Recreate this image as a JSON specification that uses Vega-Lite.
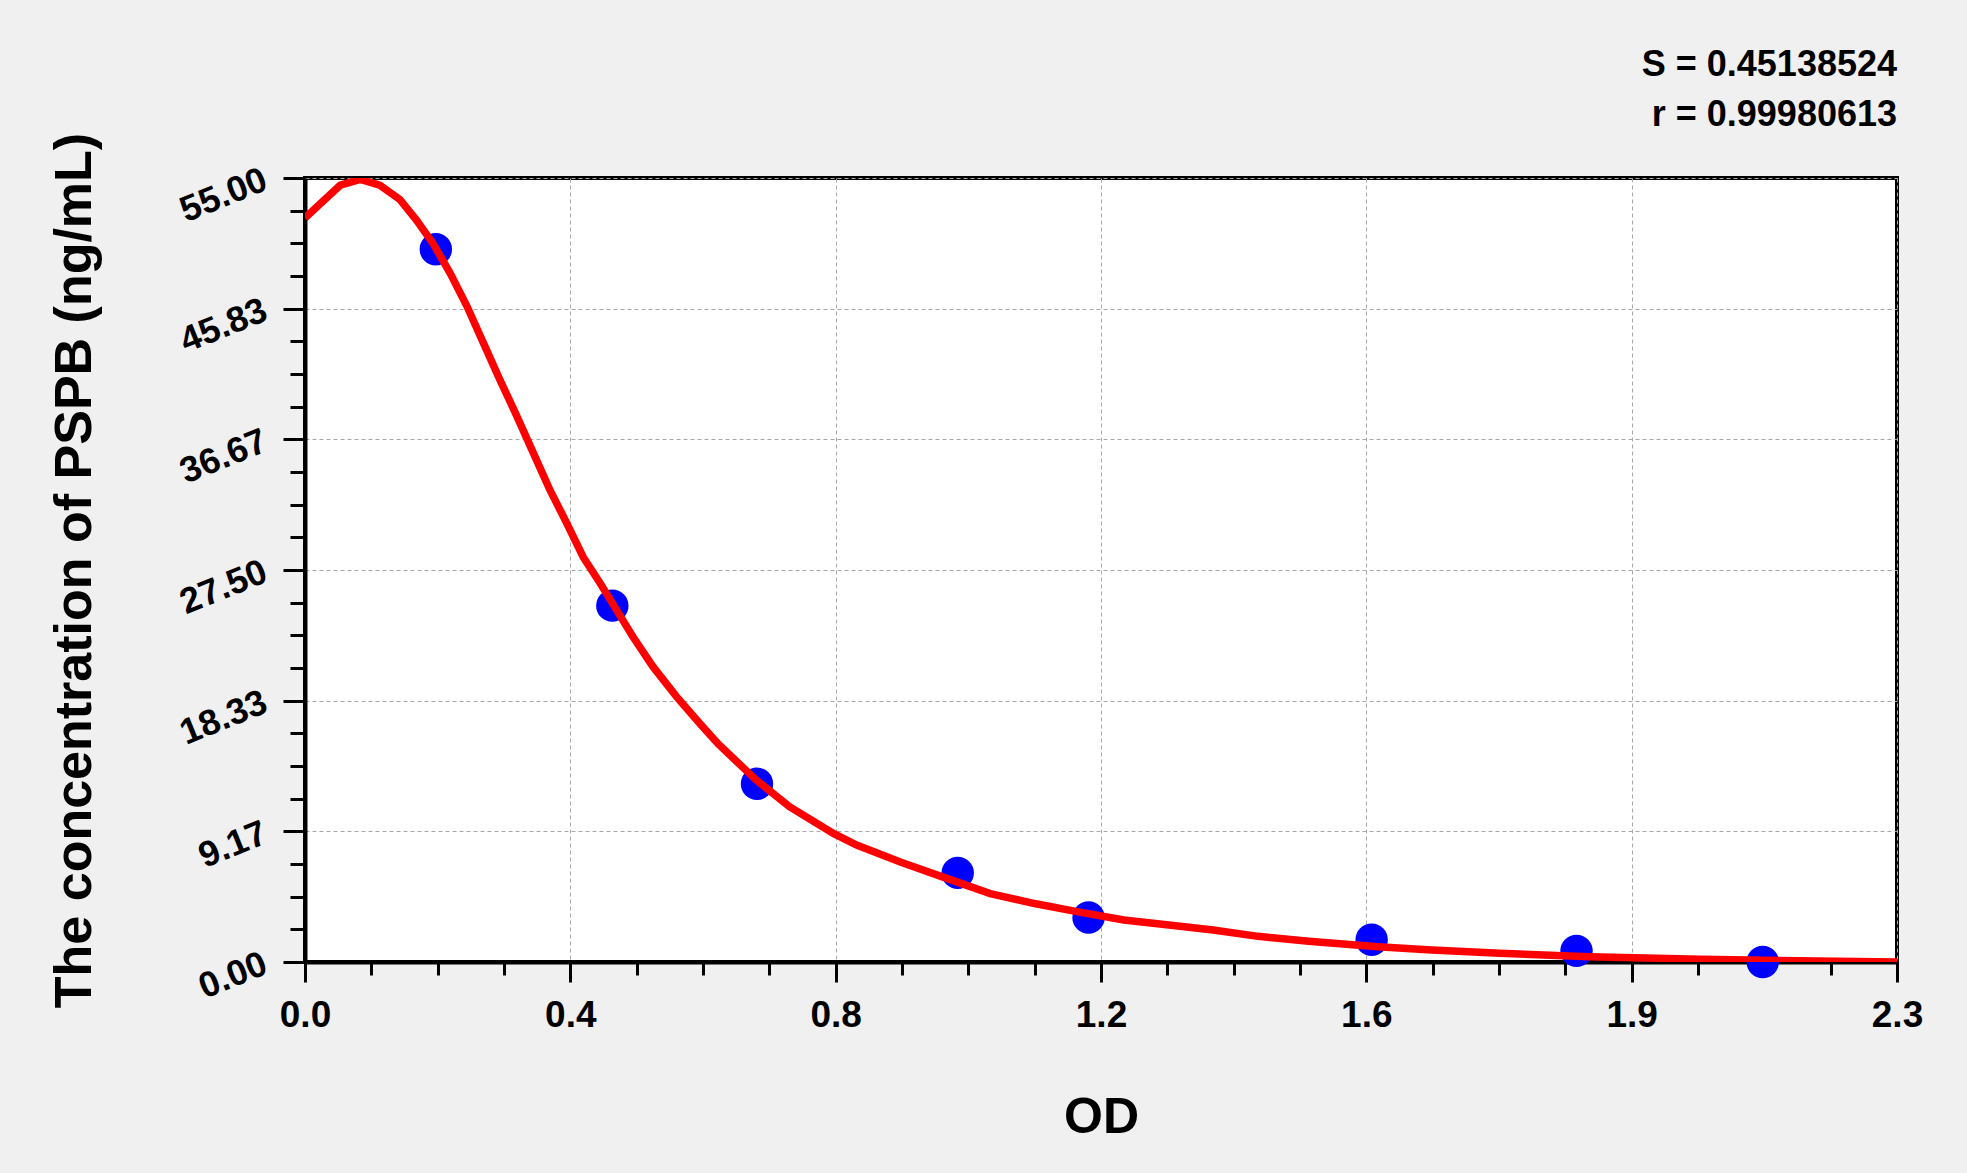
{
  "$schema": "https://vega.github.io/schema/vega-lite/v6.json",
  "width": 1592,
  "height": 784,
  "autosize": {"type": "none"},
  "padding": {"left": 305, "top": 178, "right": 70, "bottom": 211},
  "background": "#f0f0f0",
  "config": {
    "view": {"fill": "#ffffff", "stroke": "#000000", "strokeWidth": 4},
    "font": "Liberation Sans"
  },
  "title": {
    "text": "S = 0.45138524",
    "subtitle": "r = 0.99980613",
    "anchor": "end",
    "frame": "group",
    "orient": "top",
    "offset": -2,
    "fontSize": 36,
    "fontWeight": "bold",
    "font": "Liberation Sans",
    "color": "#000000",
    "subtitleFontSize": 36,
    "subtitleFontWeight": "bold",
    "subtitleFont": "Liberation Sans",
    "subtitleColor": "#000000",
    "subtitlePadding": 14
  },
  "datasets": {
    "standards": [
      {"od": 0.189, "conc": 50},
      {"od": 0.444, "conc": 25},
      {"od": 0.653, "conc": 12.5},
      {"od": 0.943, "conc": 6.25},
      {"od": 1.132, "conc": 3.125},
      {"od": 1.541, "conc": 1.5625},
      {"od": 1.837, "conc": 0.78125},
      {"od": 2.106, "conc": 0}
    ],
    "curve": [
      {"od": 0.0, "conc": 52.2},
      {"od": 0.022, "conc": 53.2},
      {"od": 0.051, "conc": 54.5},
      {"od": 0.08, "conc": 54.9},
      {"od": 0.108, "conc": 54.5},
      {"od": 0.137, "conc": 53.5},
      {"od": 0.161, "conc": 52.05},
      {"od": 0.185, "conc": 50.4},
      {"od": 0.21, "conc": 48.3},
      {"od": 0.234, "conc": 46.0},
      {"od": 0.258, "conc": 43.4},
      {"od": 0.282, "conc": 40.8},
      {"od": 0.306, "conc": 38.3},
      {"od": 0.33, "conc": 35.7},
      {"od": 0.354, "conc": 33.1},
      {"od": 0.378, "conc": 30.8},
      {"od": 0.402, "conc": 28.4},
      {"od": 0.426, "conc": 26.6},
      {"od": 0.45, "conc": 24.7},
      {"od": 0.474, "conc": 22.8},
      {"od": 0.503, "conc": 20.7},
      {"od": 0.537, "conc": 18.6},
      {"od": 0.571, "conc": 16.7},
      {"od": 0.597, "conc": 15.3},
      {"od": 0.651, "conc": 12.8},
      {"od": 0.7, "conc": 10.9},
      {"od": 0.764, "conc": 9.0},
      {"od": 0.797, "conc": 8.2},
      {"od": 0.861, "conc": 7.0},
      {"od": 0.925, "conc": 5.9},
      {"od": 0.99, "conc": 4.8},
      {"od": 1.054, "conc": 4.1},
      {"od": 1.119, "conc": 3.5},
      {"od": 1.183, "conc": 2.95},
      {"od": 1.248, "conc": 2.6},
      {"od": 1.312, "conc": 2.24},
      {"od": 1.377, "conc": 1.8},
      {"od": 1.45, "conc": 1.45},
      {"od": 1.55, "conc": 1.07},
      {"od": 1.628, "conc": 0.84},
      {"od": 1.726, "conc": 0.61},
      {"od": 1.856, "conc": 0.37},
      {"od": 2.016, "conc": 0.19},
      {"od": 2.243, "conc": 0.03},
      {"od": 2.3, "conc": 0.0}
    ]
  },
  "layer": [
    {
      "data": {"name": "standards"},
      "mark": {"type": "circle", "size": 1050, "color": "#0000ff", "opacity": 1},
      "encoding": {
        "x": {
          "field": "od",
          "type": "quantitative",
          "scale": {"domain": [0, 2.3], "nice": false, "zero": false},
          "axis": {
            "orient": "bottom",
            "values": [0, 0.383333, 0.766667, 1.15, 1.533333, 1.916667, 2.3],
            "labelExpr": "datum.value < 0.1 ? '0.0' : datum.value < 0.5 ? '0.4' : datum.value < 0.9 ? '0.8' : datum.value < 1.3 ? '1.2' : datum.value < 1.7 ? '1.6' : datum.value < 2.1 ? '1.9' : '2.3'",
            "labelFontSize": 37,
            "labelFontWeight": "bold",
            "labelFont": "Liberation Sans",
            "labelColor": "#000000",
            "labelPadding": 15,
            "labelBaseline": "top",
            "labelFlush": false,
            "labelOverlap": false,
            "tickSize": 20,
            "tickWidth": 3,
            "tickColor": "#000000",
            "domainColor": "#000000",
            "domainWidth": 4,
            "grid": true,
            "gridColor": "#a8a8a8",
            "gridDash": [4, 3],
            "gridWidth": 1,
            "title": "OD",
            "titleFontSize": 50,
            "titleFontWeight": "bold",
            "titleFont": "Liberation Sans",
            "titleColor": "#000000",
            "titleX": 796,
            "titleY": 170,
            "titleBaseline": "alphabetic",
            "titleAlign": "center"
          }
        },
        "y": {
          "field": "conc",
          "type": "quantitative",
          "scale": {"domain": [0, 55], "nice": false, "zero": true},
          "axis": {
            "orient": "left",
            "values": [0, 9.1667, 18.3333, 27.5, 36.6667, 45.8333, 55],
            "format": ".2f",
            "labelAngle": -22,
            "labelAlign": "right",
            "labelBaseline": "middle",
            "labelFontSize": 36,
            "labelFontWeight": "bold",
            "labelFont": "Liberation Sans",
            "labelColor": "#000000",
            "labelPadding": 18,
            "labelFlush": false,
            "labelOverlap": false,
            "tickSize": 22,
            "tickWidth": 3,
            "tickColor": "#000000",
            "domainColor": "#000000",
            "domainWidth": 4,
            "grid": true,
            "gridColor": "#a8a8a8",
            "gridDash": [4, 3],
            "gridWidth": 1,
            "title": "The concentration of PSPB (ng/mL)",
            "titleFontSize": 52,
            "titleFontWeight": "bold",
            "titleFont": "Liberation Sans",
            "titleColor": "#000000",
            "titleAngle": -90,
            "titleX": -215,
            "titleY": 392,
            "titleBaseline": "alphabetic",
            "titleAlign": "center"
          }
        }
      }
    },
    {
      "data": {"name": "curve"},
      "mark": {"type": "line", "color": "#ff0000", "strokeWidth": 7.5, "clip": true},
      "encoding": {
        "x": {
          "field": "od",
          "type": "quantitative",
          "axis": {
            "orient": "bottom",
            "values": [0.095833, 0.191667, 0.2875, 0.479167, 0.575, 0.670833, 0.8625, 0.958333, 1.054167, 1.245833, 1.341667, 1.4375, 1.629167, 1.725, 1.820833, 2.0125, 2.108333, 2.204167],
            "labels": false,
            "domain": false,
            "grid": false,
            "title": null,
            "tickSize": 13,
            "tickWidth": 3,
            "tickColor": "#000000"
          }
        },
        "y": {
          "field": "conc",
          "type": "quantitative",
          "axis": {
            "orient": "left",
            "values": [2.2917, 4.5833, 6.875, 11.4583, 13.75, 16.0417, 20.625, 22.9167, 25.2083, 29.7917, 32.0833, 34.375, 38.9583, 41.25, 43.5417, 48.125, 50.4167, 52.7083],
            "labels": false,
            "domain": false,
            "grid": false,
            "title": null,
            "tickSize": 15,
            "tickWidth": 3,
            "tickColor": "#000000"
          }
        }
      }
    }
  ],
  "resolve": {"axis": {"x": "independent", "y": "independent"}}
}
